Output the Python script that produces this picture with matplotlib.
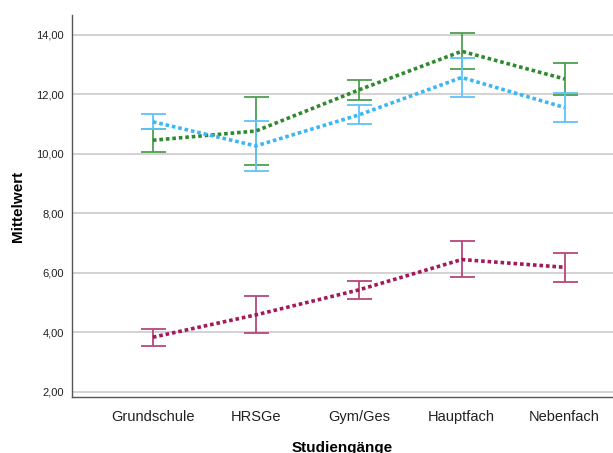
import matplotlib

matplotlib.use("Agg")
import matplotlib.pyplot as plt

plt.rcParams["font.family"] = ["Liberation Sans", "DejaVu Sans"]

categories = ["Grundschule", "HRSGe", "Gym/Ges", "Hauptfach", "Nebenfach"]

# means with lower / upper CI bounds
green_mean = [10.46, 10.77, 12.15, 13.45, 12.52]
green_low = [10.08, 9.63, 11.82, 12.85, 11.99]
green_high = [10.85, 11.91, 12.50, 14.07, 13.05]

blue_mean = [11.08, 10.27, 11.31, 12.57, 11.56]
blue_low = [10.85, 9.41, 11.00, 11.91, 11.07]
blue_high = [11.33, 11.10, 11.64, 13.23, 12.04]

red_mean = [3.84, 4.59, 5.43, 6.45, 6.19]
red_low = [3.56, 3.98, 5.13, 5.85, 5.71]
red_high = [4.10, 5.21, 5.72, 7.06, 6.66]

yticks = [2, 4, 6, 8, 10, 12, 14]

series = [
    (green_mean, green_low, green_high, "#2f8a2f", "#4f9f4f"),
    (blue_mean, blue_low, blue_high, "#3cb6f5", "#5ec4f7"),
    (red_mean, red_low, red_high, "#a3195b", "#b8477a"),
]

fig = plt.figure(figsize=(6.13, 4.53), dpi=100)
ax = fig.add_axes([72 / 613, 56 / 453, 541 / 613, 382 / 453])

x = list(range(len(categories)))
for mean, low, high, line_col, err_col in series:
    err = [[m - lo for m, lo in zip(mean, low)], [hi - m for m, hi in zip(mean, high)]]
    ax.errorbar(x, mean, yerr=err, fmt="none", ecolor=err_col, elinewidth=1.3,
                capsize=9, capthick=1.3, zorder=3)
    ax.plot(x, mean, color=line_col, linestyle=(0, (1, 0.8)), linewidth=2.6, zorder=4)

ax.set_xlim(-0.786, 4.47)
ax.set_ylim(1.83, 14.67)
ax.set_yticks(yticks)
ax.set_yticklabels([f"{v:.2f}".replace(".", ",") for v in yticks], fontsize=8)
ax.set_xticks(x)
ax.set_xticklabels(categories, fontsize=10.5, va="center_baseline")
ax.tick_params(length=0, pad=6, colors="#222222")
ax.tick_params(axis="x", pad=13)

ax.grid(axis="y", color="#d2d2d2", linewidth=1.4)
ax.set_axisbelow(True)
for side in ["top", "right"]:
    ax.spines[side].set_visible(False)
for side in ["left", "bottom"]:
    ax.spines[side].set_color("#555555")
    ax.spines[side].set_linewidth(1.0)

ax.set_ylabel("Mittelwert", fontsize=11, fontweight="bold", labelpad=8)
ax.set_xlabel("Studiengänge", fontsize=11, fontweight="bold", labelpad=12.5)

fig.savefig("out.png", dpi=100)
